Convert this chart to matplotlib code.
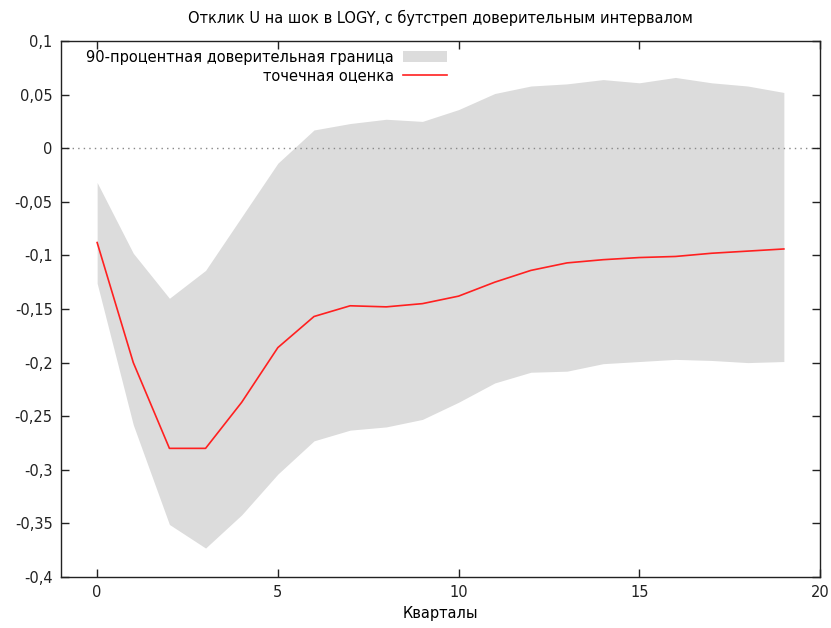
import matplotlib
matplotlib.use('Agg')
import matplotlib.pyplot as plt
import numpy as np

# quarters and impulse response with bootstrap band
quarters = list(range(20))
point = [-0.088, -0.200, -0.280, -0.280, -0.237, -0.186, -0.157, -0.147, -0.148, -0.145,
         -0.138, -0.125, -0.114, -0.107, -0.104, -0.102, -0.101, -0.098, -0.096, -0.094]
upper = [-0.032, -0.098, -0.140, -0.114, -0.064, -0.014, 0.017, 0.023, 0.027, 0.025,
         0.036, 0.051, 0.058, 0.060, 0.064, 0.061, 0.066, 0.061, 0.058, 0.052]
lower = [-0.126, -0.258, -0.351, -0.373, -0.342, -0.304, -0.273, -0.263, -0.260, -0.253,
         -0.237, -0.219, -0.209, -0.208, -0.201, -0.199, -0.197, -0.198, -0.200, -0.199]

yticks = [0.1, 0.05, 0, -0.05, -0.1, -0.15, -0.2, -0.25, -0.3, -0.35, -0.4]
ylabels = ['0,1', '0,05', '0', '-0,05', '-0,1', '-0,15', '-0,2', '-0,25', '-0,3', '-0,35', '-0,4']
xticks = [0, 5, 10, 15, 20]

plt.rcParams['font.family'] = ['DejaVu Sans']
plt.rcParams['xtick.direction'] = 'in'
plt.rcParams['ytick.direction'] = 'in'
fs = 10.5

fig = plt.figure(figsize=(8.31, 6.28), dpi=100)
ax = fig.add_axes([61/831, 1-577/628, (820-61)/831, (577-41)/628])

ax.fill_between(quarters, lower, upper, color='#dcdcdc', lw=0,
                label='90-процентная доверительная граница')
ax.plot(quarters, point, c='#ff2020', lw=1.2, label='точечная оценка')
ax.axhline(0, c='#888888', lw=1, ls=(0, (1, 3)), zorder=1)

ax.set_xlim(-1, 20)
ax.set_ylim(-0.4, 0.1)
ax.set_xticks(xticks)
ax.set_yticks(yticks)
ax.set_yticklabels(ylabels)
ax.tick_params(labelsize=fs, length=6, width=1, top=True, right=True, pad=6, colors='#222222')
for s in ax.spines.values():
    s.set_linewidth(1)
    s.set_color('#222222')

ax.set_xlabel('Кварталы', fontsize=fs, labelpad=4)
ax.set_title('Отклик U на шок в LOGY, с бутстреп доверительным интервалом', fontsize=fs, pad=13)

ax.legend(loc='upper left', frameon=False, markerfirst=False, fontsize=fs,
          handlelength=3.0, handleheight=0.75, labelspacing=0.2, handletextpad=0.6,
          bbox_to_anchor=(0.016, 1.008), borderaxespad=0.5)

plt.savefig('out.png', dpi=100)
plt.close()
